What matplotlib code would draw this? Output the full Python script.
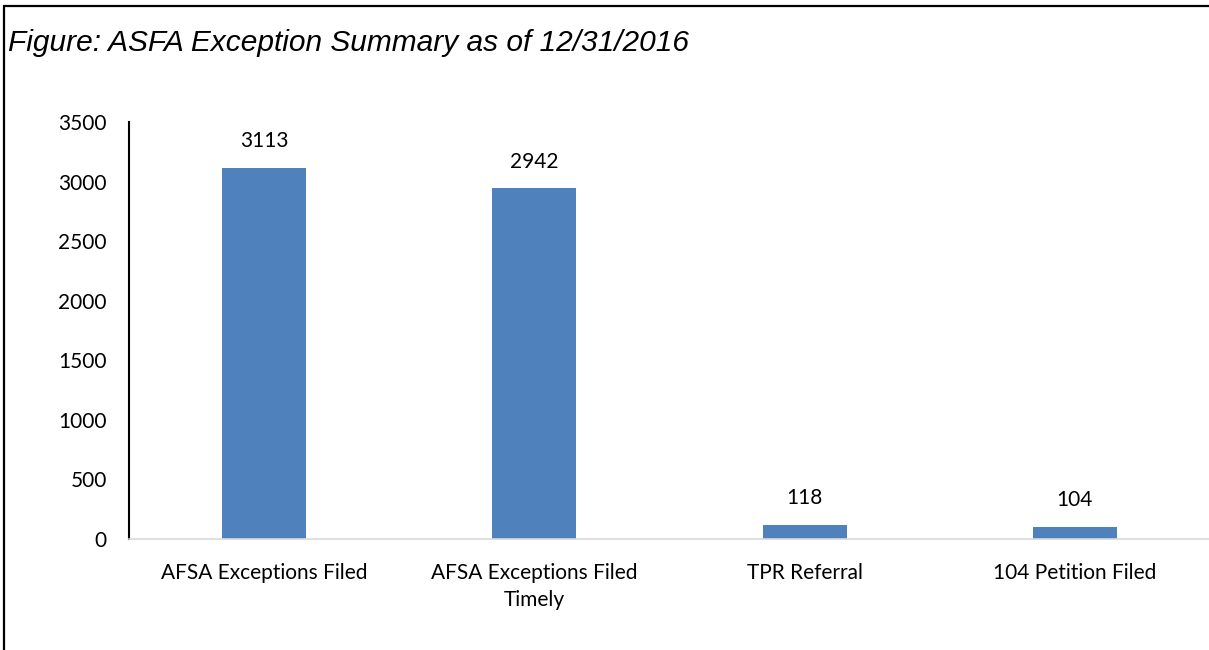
import matplotlib
matplotlib.use("Agg")
import matplotlib.pyplot as plt
from matplotlib.patches import Rectangle

categories = ["AFSA Exceptions Filed", "AFSA Exceptions Filed\nTimely", "TPR Referral", "104 Petition Filed"]
values = [3113, 2942, 118, 104]
yticks = [0, 500, 1000, 1500, 2000, 2500, 3000, 3500]

W, H = 1209, 650
fig = plt.figure(figsize=(W / 100, H / 100), dpi=100)
fig.patch.set_facecolor("white")

# outer border (extends past the right and bottom edges)
fig.patches.append(Rectangle((4 / W, -0.1), 1.2, 1 - 6 / H + 0.1, transform=fig.transFigure,
                             fill=False, edgecolor="black", linewidth=1.6))

fig.text(8 / W, 1 - 43 / H, "Figure: ASFA Exception Summary as of 12/31/2016",
         fontfamily="Liberation Sans", fontstyle="italic", fontsize=21.5,
         va="center", ha="left")

ax = fig.add_axes([129 / W, 1 - 539 / H, (1210 - 129) / W, (539 - 122) / H])
x = range(len(categories))
bars = ax.bar(x, values, width=0.31, color="#4F81BD", zorder=2)
ax.set_xlim(-0.5, len(categories) - 0.5)
ax.set_ylim(0, 3500)
ax.set_yticks(yticks)
ax.set_xticks(list(x))
ax.set_xticklabels(categories, fontfamily="Lato", fontsize=15, linespacing=1.45)
ax.set_yticklabels([str(t) for t in yticks], fontfamily="Lato", fontsize=15)
ax.tick_params(axis="both", length=0)
ax.tick_params(axis="y", pad=16)
ax.tick_params(axis="x", pad=17)
for lbl in ax.get_xticklabels():
    lbl.set_verticalalignment("top")

for s in ["top", "right"]:
    ax.spines[s].set_visible(False)
ax.spines["left"].set_color("black")
ax.spines["left"].set_linewidth(1.5)
ax.spines["bottom"].set_color("#D9D9D9")
ax.spines["bottom"].set_linewidth(1.2)

for rect, v in zip(bars, values):
    ax.annotate(str(v), (rect.get_x() + rect.get_width() / 2, v),
                xytext=(0, 12), textcoords="offset points",
                ha="center", va="bottom", fontfamily="Lato", fontsize=15)

fig.savefig("out.png", dpi=100, facecolor="white")
